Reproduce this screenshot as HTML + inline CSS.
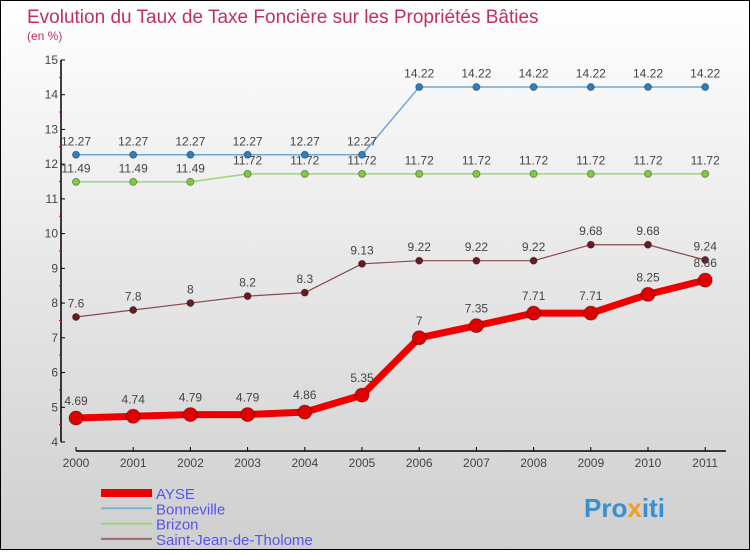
<!DOCTYPE html>
<html><head><meta charset="utf-8"><style>
html,body{margin:0;padding:0}
body{width:750px;height:550px;overflow:hidden;font-family:"Liberation Sans",sans-serif}
#wrap{position:relative;width:748px;height:548px;border:1px solid #000;background:linear-gradient(#ffffff,#cfcfcf)}
svg text{font-family:"Liberation Sans",sans-serif}
</style></head><body>
<div id="wrap">
<svg id="chart" width="748" height="548" viewBox="0 0 748 548">
<text x="26" y="22" font-size="19" fill="#c0305f">Evolution du Taux de Taxe Foncière sur les Propriétés Bâties</text>
<text x="26" y="39" font-size="12" fill="#c0305f">(en %)</text>
<g id="axes"></g>
<g id="series"></g>
<g id="legend"></g>
<text x="583" y="516" font-size="26" font-weight="bold" fill="#3a8fd0">Pro<tspan fill="#f0a020">x</tspan><tspan fill="#3a8fd0">iti</tspan></text>
</svg>
</div>
<script>
const years=["2000","2001","2002","2003","2004","2005","2006","2007","2008","2009","2010","2011"];
const ayse=[4.69,4.74,4.79,4.79,4.86,5.35,7,7.35,7.71,7.71,8.25,8.66];
const bonneville=[12.27,12.27,12.27,12.27,12.27,12.27,14.22,14.22,14.22,14.22,14.22,14.22];
const brizon=[11.49,11.49,11.49,11.72,11.72,11.72,11.72,11.72,11.72,11.72,11.72,11.72];
const stjean=[7.6,7.8,8,8.2,8.3,9.13,9.22,9.22,9.22,9.68,9.68,9.24];
const yTicks=[4,5,6,7,8,9,10,11,12,13,14,15];
const NS="http://www.w3.org/2000/svg";
const X=i=>75+i*57.2;
const Y=v=>441-(v-4)*34.73;
function mk(tag,attrs,parent){const e=document.createElementNS(NS,tag);for(const k in attrs)e.setAttribute(k,attrs[k]);parent.appendChild(e);return e;}
const axes=document.getElementById('axes');
let e=mk('line',{x1:60,y1:Y(15),x2:60,y2:Y(4),stroke:'#000','stroke-width':1.5},axes);


e=mk('line',{x1:75,y1:450,x2:725,y2:450,stroke:'#000','stroke-width':1.5},axes);


yTicks.forEach(t=>{
 mk('line',{x1:60,y1:Y(t),x2:64,y2:Y(t),stroke:'#000'},axes);
 if(t<15)mk('line',{x1:58,y1:Y(t+0.5),x2:60,y2:Y(t+0.5),stroke:'#e00'},axes);
 const tx=mk('text',{x:57,y:Y(t)+4,'font-size':12,fill:'#444','text-anchor':'end'},axes);tx.textContent=t;
 
 
});
years.forEach((y,i)=>{
 mk('line',{x1:X(i),y1:446,x2:X(i),y2:450,stroke:'#000'},axes);
 const tx=mk('text',{x:X(i),y:466,'font-size':12,fill:'#444','text-anchor':'middle'},axes);tx.textContent=y;
 
 
});
const ser=document.getElementById('series');
function draw(vals,name,color,dot,lw,r,fmt){
 const g=mk('g',{},ser);
 
 
 const p=mk('polyline',{points:vals.map((v,i)=>X(i)+','+Y(v)).join(' '),fill:'none',stroke:color,'stroke-width':lw,'stroke-linejoin':'round'},g);
 
 
 vals.forEach((v,i)=>{
  const c=mk('circle',{cx:X(i),cy:Y(v),r:r,fill:dot,stroke:'rgba(0,0,0,0.35)','stroke-width':1},g);
  
  
  const t=mk('text',{x:X(i),y:Y(v)-(r+6),'font-size':12,fill:'#444','text-anchor':'middle'},g);
  t.textContent=String(v);
  
  
 });
}
draw(stjean,'saint-jean-de-tholome','#8a4a4a','#6a1a20',1.2,3.5);
draw(brizon,'brizon','#9ad67a','#7ccf3c',1.5,3.5);
draw(bonneville,'bonneville','#6fa8d6','#2c7fc0',1.5,3.5);
draw(ayse,'ayse','#ee0000','#e00000',7,7);
const legendNames=["AYSE","Bonneville","Brizon","Saint-Jean-de-Tholome"];
const legendColors=['#ee0000','#7fb2d6','#9ad67a','#9a6a6a'];
const legendW=[8,2,2,2];
const lg=document.getElementById('legend');
legendNames.forEach((n,i)=>{
 const y=492+i*15.3;
 const g=mk('g',{},lg);
 
 
 mk('line',{x1:100,y1:y,x2:151,y2:y,stroke:legendColors[i],'stroke-width':legendW[i]},g);
 const t=mk('text',{x:155,y:y+6,'font-size':15,fill:'#5555ee'},g);
 t.textContent=n;
});
</script>
</body></html>
